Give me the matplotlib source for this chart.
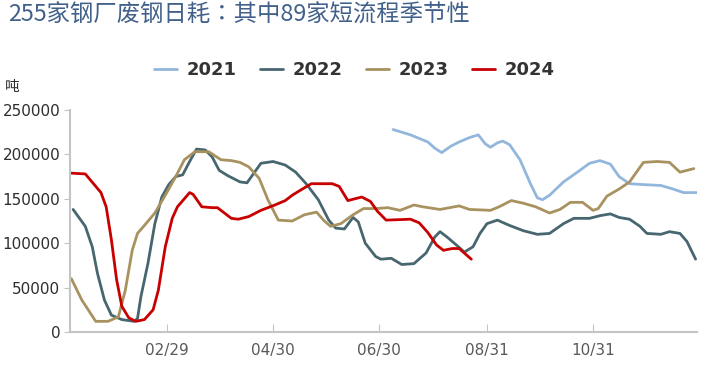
import numpy as np
import pandas as pd
from matplotlib import pyplot as plt
import matplotlib.dates as mdates
import matplotlib.ticker as ticker

plt.rcParams['font.family'] = ['DejaVu Sans', 'Noto Sans CJK SC']

# 日序号（当年第几天）与日耗（千吨）
days_2021 = [190, 200, 210, 214, 218, 223, 228, 234, 239, 243, 246, 250, 253, 257, 263, 269, 273,
             276, 280, 288, 296, 303, 309, 315, 320, 326, 334, 344, 351, 357, 365]
vals_2021 = [228, 222, 214, 207, 202, 209, 214, 219, 222, 212, 208, 213, 215, 211, 194, 167, 151,
             149, 154, 169, 180, 190, 193, 189, 175, 167, 166, 165, 161, 157, 157]

days_2022 = [6, 13, 17, 20, 24, 28, 34, 41, 43, 45, 49, 53, 57, 61, 65, 69, 73, 77, 82, 86, 90,
             95, 102, 106, 110, 114, 121, 128, 134, 140, 147, 153, 157, 162, 167, 170, 174, 180,
             183, 189, 195, 202, 209, 214, 217, 221, 227, 231, 236, 240, 244, 250, 257, 265, 273,
             280, 288, 294, 303, 309, 315, 320, 326, 332, 336, 344, 349, 355, 359, 364]
vals_2022 = [138, 119, 96, 66, 36, 19, 14, 12, 15, 40, 77, 122, 152, 166, 175, 177, 192, 206, 205,
             197, 182, 176, 169, 168, 179, 190, 192, 188, 180, 167, 149, 126, 117, 116, 129, 124,
             100, 85, 82, 83, 76, 77, 89, 107, 113, 107, 97, 90, 96, 111, 122, 126, 120, 114, 110,
             111, 122, 128, 128, 131, 133, 129, 127, 119, 111, 110, 113, 111, 102, 82]

days_2023 = [5, 11, 19, 26, 32, 36, 40, 43, 47, 53, 59, 65, 70, 76, 84, 91, 97, 102, 107, 113,
             118, 124, 132, 139, 146, 150, 154, 160, 167, 173, 180, 187, 194, 202, 207, 217, 228,
             234, 246, 251, 258, 265, 272, 280, 286, 292, 299, 305, 308, 313, 320, 326, 334, 342,
             349, 355, 363]
vals_2023 = [60, 36, 12, 12, 17, 47, 92, 111, 120, 134, 154, 175, 194, 203, 203, 194, 193, 191,
             186, 173, 149, 126, 125, 132, 135, 126, 119, 122, 132, 139, 139, 140, 137, 143, 141,
             138, 142, 138, 137, 141, 148, 145, 141, 134, 138, 146, 146, 137, 139, 153, 161, 169,
             191, 192, 191, 180, 184]

days_2024 = [4, 13, 19, 22, 25, 28, 31, 34, 38, 42, 47, 52, 55, 59, 63, 66, 73, 75, 80, 86, 89,
             97, 101, 107, 114, 122, 128, 132, 137, 143, 155, 159, 164, 172, 177, 181, 186, 200,
             205, 210, 215, 219, 224, 228, 235]
vals_2024 = [179, 178, 164, 157, 141, 104, 59, 29, 16, 12, 14, 25, 47, 96, 128, 141, 157, 155,
             141, 140, 140, 128, 127, 130, 137, 143, 148, 154, 160, 167, 167, 164, 148, 152, 147,
             136, 126, 127, 123, 112, 98, 92, 94, 94, 82]

series = {
    '2021': (days_2021, vals_2021, '#93b7dc'),
    '2022': (days_2022, vals_2022, '#48666f'),
    '2023': (days_2023, vals_2023, '#a8925f'),
    '2024': (days_2024, vals_2024, '#c80000'),
}

tick_dates = ['2024-02-29', '2024-04-30', '2024-06-30', '2024-08-31', '2024-10-31']

base = pd.Timestamp('2024-01-01')


def to_dates(days):
    return base + pd.to_timedelta(np.array(days) - 1, unit='D')


fig = plt.figure(figsize=(7.01, 3.66), dpi=100)
ax = fig.add_axes([70 / 701, 1 - 332 / 366, 627 / 701, 222 / 366])

for name, (d, v, c) in series.items():
    ax.plot(to_dates(d), np.array(v) * 1000, color=c, lw=2.0, label=name,
            solid_joinstyle='round', solid_capstyle='round')

ax.set_xlim(base + pd.Timedelta(days=3.2), base + pd.Timedelta(days=363.8))
ax.set_ylim(0, 250000)
ax.set_yticks(range(0, 250001, 50000))
ax.yaxis.set_major_formatter(ticker.FuncFormatter(lambda v, _: f'{int(v)}'))
ax.set_xticks(pd.to_datetime(tick_dates))
ax.xaxis.set_major_formatter(mdates.DateFormatter('%m/%d'))

for s in ['top', 'right']:
    ax.spines[s].set_visible(False)
for s in ['left', 'bottom']:
    ax.spines[s].set_color('#c4c4c4')
    ax.spines[s].set_linewidth(1.5)

ax.tick_params(axis='y', direction='out', length=4, color='#c4c4c4', labelsize=11,
               labelcolor='#2e2e2e', pad=3)
ax.tick_params(axis='x', direction='in', length=6, color='#c4c4c4', labelsize=11,
               labelcolor='#595959', pad=8)

fig.text(8 / 701, 1 - 15 / 366, '255家钢厂废钢日耗：其中89家短流程季节性', fontsize=16.8,
         color='#41608a', va='center', ha='left', family=['Noto Sans CJK TC', 'DejaVu Sans'])
fig.text(5 / 701, 1 - 87 / 366, '吨', fontsize=10.5, color='#2e2e2e', va='center', ha='left',
         family=['Noto Sans CJK SC', 'DejaVu Sans'])

leg = fig.legend(loc='center', bbox_to_anchor=(354 / 701, 1 - 70 / 366), ncol=4, frameon=False,
                 prop={'size': 13, 'weight': 'bold'}, handlelength=1.3, handletextpad=0.5,
                 columnspacing=1.3)
for t in leg.get_texts():
    t.set_color('#333333')

fig.savefig('out.png', dpi=100)
